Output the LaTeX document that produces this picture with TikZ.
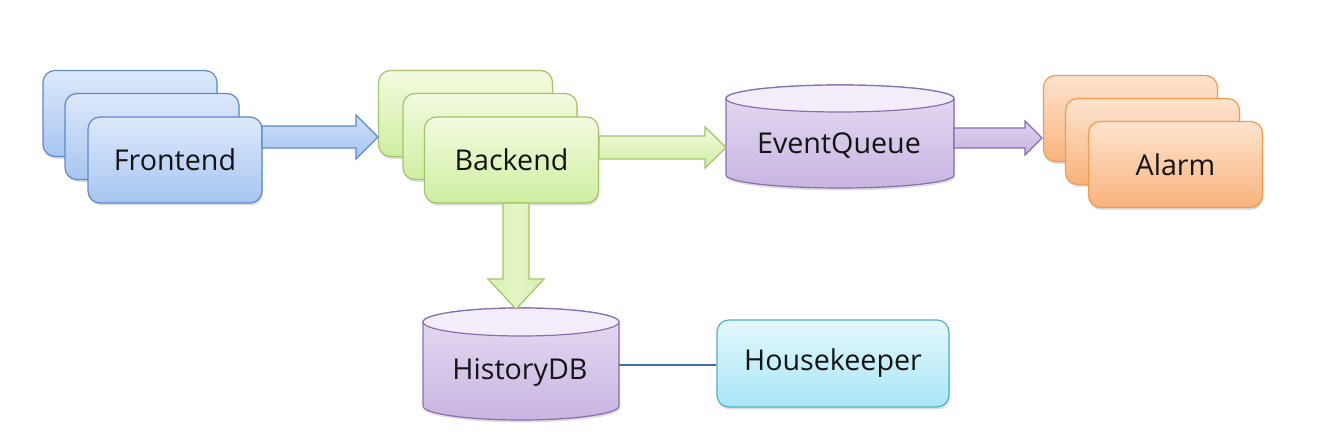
\documentclass[tikz,border=0pt]{standalone}
\usepackage{fontspec}
\setmainfont{Open Sans}
\usetikzlibrary{calc,shadows}
\definecolor{txt}{HTML}{141414}
\definecolor{bluetop}{HTML}{DDE9FB}\definecolor{bluebot}{HTML}{A7C5F0}\definecolor{blueln}{HTML}{5C8ACB}
\definecolor{greentop}{HTML}{F3FBE0}\definecolor{greenbot}{HTML}{CFEEA0}\definecolor{greenln}{HTML}{A3C468}
\definecolor{purptop}{HTML}{EDE6F6}\definecolor{purpbot}{HTML}{C8B5E2}\definecolor{purpln}{HTML}{8A6FAE}
\definecolor{orgtop}{HTML}{FDE4CF}\definecolor{orgbot}{HTML}{F9B37C}\definecolor{orgln}{HTML}{F39A50}
\definecolor{cyantop}{HTML}{E4F8FD}\definecolor{cyanbot}{HTML}{A8E6F6}\definecolor{cyanln}{HTML}{4FB0C9}
\definecolor{linkln}{HTML}{3F70B0}
\newcommand\hblockarrow[6]{%
  \path[#1] let \p1=(#2), \p2=(#3) in
    (\x1,\y1+#4) -- (\x2-#6,\y1+#4) -- (\x2-#6,\y1+#5) -- (\x2,\y1)
    -- (\x2-#6,\y1-#5) -- (\x2-#6,\y1-#4) -- (\x1,\y1-#4) -- cycle;}
\newcommand\vblockarrow[6]{%
  \path[#1] let \p1=(#2), \p2=(#3) in
    (\x1+#4,\y1) -- (\x1+#4,\y2+#6) -- (\x1+#5,\y2+#6) -- (\x1,\y2)
    -- (\x1-#5,\y2+#6) -- (\x1-#4,\y2+#6) -- (\x1-#4,\y1) -- cycle;}
\tikzset{
  lbl/.style={font=\fontsize{21.5}{26}\selectfont, text=txt, inner sep=0pt},
  shad/.style={drop shadow={shadow xshift=0.6pt, shadow yshift=-1.8pt, opacity=0.22, fill=black!60}},
  stackbox/.style={rounded corners=9pt, minimum width=130.5pt, minimum height=64.5pt,
    line width=0.9pt, inner sep=0pt, shad, lbl},
  bluebox/.style={stackbox, draw=blueln, top color=bluetop, bottom color=bluebot},
  greenbox/.style={stackbox, draw=greenln, top color=greentop, bottom color=greenbot},
  orgbox/.style={stackbox, draw=orgln, top color=orgtop, bottom color=orgbot},
  cyanbox/.style={stackbox, minimum width=174pt, minimum height=65.25pt, draw=cyanln, top color=cyantop, bottom color=cyanbot},
  cylbody/.style={draw=purpln, line width=0.9pt, top color=purptop!80!purpbot, bottom color=purpbot, shad},
  cyltop/.style={draw=purpln, line width=0.9pt, fill=purptop!70!white},
  ghost/.style={draw=none, fill=none, inner sep=0pt},
  barrow/.style={draw=blueln, line width=0.9pt, top color=bluetop!70!bluebot, bottom color=bluebot},
  garrow/.style={draw=greenln, line width=0.9pt, top color=greentop, bottom color=greenbot},
  gvarrow/.style={draw=greenln, line width=0.9pt, left color=greenbot!80!greentop, right color=greenbot!80!greentop, middle color=greentop!60!greenbot},
  parrow/.style={draw=purpln, line width=0.9pt, top color=purptop!60!purpbot, bottom color=purpbot},
  link/.style={draw=linkln, line width=1.1pt}
}
\begin{document}
\begin{tikzpicture}[x=0.75pt, y=-0.75pt]
\useasboundingbox[fill=white] (0,0) rectangle (1322,448);

% Frontend stack
\node[bluebox] (fe3) at (130,113.5) {};
\node[bluebox] (fe2) at (152,136.5) {};
\node[bluebox] (fe1) at (175,160) {Frontend};

% Backend stack
\node[greenbox] (be3) at (465.5,113.5) {};
\node[greenbox] (be2) at (490,136.5) {};
\node[greenbox] (be1) at (511.5,160) {Backend};

% Alarm stack
\node[orgbox] (al3) at (1130.5,118.5) {};
\node[orgbox] (al2) at (1152.5,141.5) {};
\node[orgbox] (al1) at (1175.5,164.5) {Alarm};

% EventQueue cylinder
\node[ghost, minimum width=171pt, minimum height=77.25pt] (eq) at (840,136.5) {};
\path[cylbody] (726,98.5) -- (726,175)
  arc[start angle=180, end angle=360, x radius=85.5pt, y radius=9.75pt]
  -- (954,98.5)
  arc[start angle=0, end angle=180, x radius=85.5pt, y radius=10.125pt] -- cycle;
\path[cyltop] (840,98.5) ellipse[x radius=85.5pt, y radius=10.125pt];
\node[lbl] (eqt) at (839,146) {EventQueue};

% HistoryDB cylinder
\node[ghost, minimum width=147pt, minimum height=84pt] (hdb) at (521,365) {};
\path[cylbody] (423,322) -- (423,406)
  arc[start angle=180, end angle=360, x radius=73.5pt, y radius=10.5pt]
  -- (619,322)
  arc[start angle=0, end angle=180, x radius=73.5pt, y radius=10.5pt] -- cycle;
\path[cyltop] (521,322) ellipse[x radius=73.5pt, y radius=10.5pt];
\node[lbl] (hdbt) at (520,372) {HistoryDB};

% Housekeeper
\node[cyanbox] (hk) at (833,363.5) {Housekeeper};

% Connector anchor points
\coordinate (a1s) at (262,137);
\coordinate (a1t) at (378,137);
\coordinate (a2s) at (599,147.5);
\coordinate (a2t) at (726,147.5);
\coordinate (a3s) at (954,138);
\coordinate (a3t) at (1042,138);
\coordinate (a4s) at (516,203);
\coordinate (a4t) at (516,309);

% Block arrows
\hblockarrow{barrow}{a1s}{a1t}{8.25pt}{16.5pt}{16.5pt}
\hblockarrow{garrow}{a2s}{a2t}{8.625pt}{15.375pt}{15.75pt}
\hblockarrow{parrow}{a3s}{a3t}{7.5pt}{12.75pt}{12.75pt}
\vblockarrow{gvarrow}{a4s}{a4t}{9.75pt}{21pt}{22.5pt}

% Plain link
\draw[link] (hdb.east) -- (hk.west |- hdb.east);
\end{tikzpicture}
\end{document}
